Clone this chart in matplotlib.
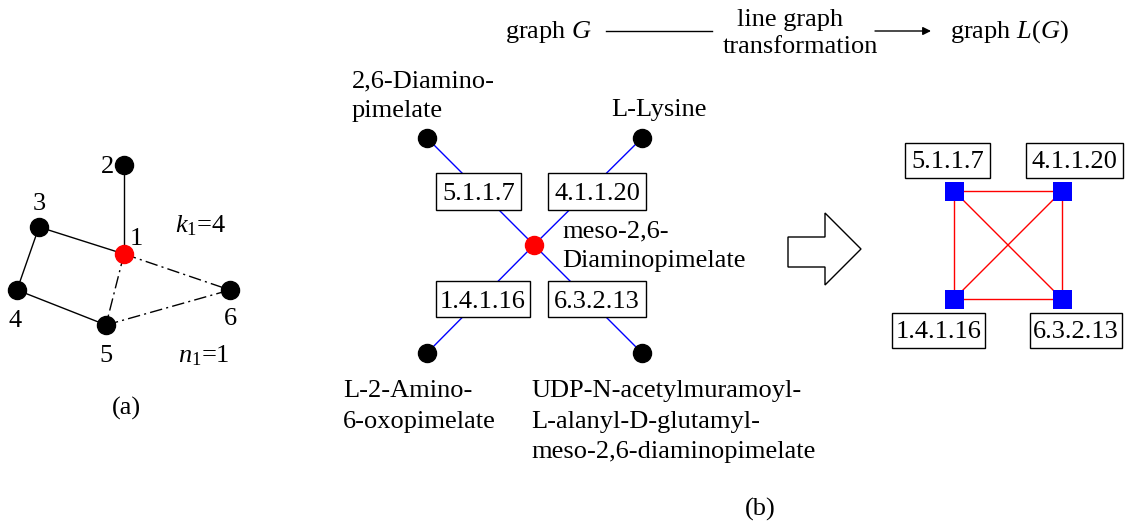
import matplotlib
matplotlib.use("Agg")
import matplotlib.pyplot as plt
from matplotlib.patches import Polygon, Rectangle

plt.rcParams['font.family'] = ['Liberation Serif', 'DejaVu Serif']
plt.rcParams['mathtext.fontset'] = 'custom'
plt.rcParams['mathtext.rm'] = 'Liberation Serif'
plt.rcParams['mathtext.it'] = 'Liberation Serif:italic'

# --- (a) grafo pequeño ---
nodos_a = {1: (124, 254), 2: (124, 165), 3: (39, 227), 4: (17, 290), 5: (106, 325), 6: (230, 290)}
aristas_solidas = [(1, 2), (1, 3), (3, 4), (4, 5)]
aristas_punteadas = [(1, 5), (1, 6), (5, 6)]
etiquetas_a = {1: (136, 245), 2: (108, 173), 3: (39, 210), 4: (15, 327), 5: (106, 362), 6: (230, 325)}

# --- (b) grafo de reacciones ---
centro_b = (534, 245)
nodos_b = [(427, 138), (642, 138), (427, 353), (642, 353)]
enzimas = ["5.1.1.7", "4.1.1.20", "1.4.1.16", "6.3.2.13"]
# cajas: (x0, x1, y0, y1)
cajas_b = [(436, 521, 173, 210), (548, 646, 173, 210), (436, 530, 281, 317), (548, 646, 281, 317)]
# etiquetas de metabolitos: (texto, x izquierda, línea base)
lineas_metab = [
    ("2,6-Diamino-", 352, 87), ("pimelate", 352, 117),
    ("L-Lysine", 611, 116),
    ("meso-2,6-", 562, 237), ("Diaminopimelate", 562, 267),
    ("L-2-Amino-", 343, 397), ("6-oxopimelate", 343, 428),
    ("UDP-N-acetylmuramoyl-", 531, 397), ("L-alanyl-D-glutamyl-", 531, 428),
    ("meso-2,6-diaminopimelate", 531, 458),
]

# --- grafo lineal L(G) ---
cuadros = [(954, 191), (1062, 191), (954, 299), (1062, 299)]
cajas_lg = [(905, 990, 143, 178), (1026, 1123, 143, 178), (892, 985, 313, 348), (1030, 1122, 313, 348)]

fig = plt.figure(figsize=(11.31, 5.23), dpi=100)
ax = fig.add_axes([0, 0, 1, 1])
ax.set_xlim(0, 1131)
ax.set_ylim(523, 0)
ax.axis('off')

fs = 19


def caja(x0, x1, y0, y1, txt):
    ax.add_patch(Rectangle((x0, y0), x1 - x0, y1 - y0, fc='white', ec='black', lw=1, zorder=4))
    ax.text((x0 + x1) / 2, y1 - 9.5, txt, fontsize=fs, ha='center', va='baseline', zorder=5)


# (a)
for a, b in aristas_solidas:
    ax.plot([nodos_a[a][0], nodos_a[b][0]], [nodos_a[a][1], nodos_a[b][1]], color='black', lw=1, zorder=1)
for a, b in aristas_punteadas:
    ax.plot([nodos_a[a][0], nodos_a[b][0]], [nodos_a[a][1], nodos_a[b][1]], color='black', lw=1,
            dashes=(9, 3, 1.5, 3), zorder=1)
for n, (x, y) in nodos_a.items():
    ax.plot(x, y, 'o', ms=13, color='red' if n == 1 else 'black', zorder=3)
for n, (x, y) in etiquetas_a.items():
    ax.text(x, y, str(n), fontsize=fs, ha='center', va='baseline')
ax.text(175, 232, r'$k_{\mathregular{1}}$=4', fontsize=fs, ha='left', va='baseline')
ax.text(178, 362, r'$n_{\mathregular{1}}$=1', fontsize=fs, ha='left', va='baseline')
ax.text(126, 415, '(a)', fontsize=fs, ha='center', va='baseline')

# (b)
for (x, y) in nodos_b:
    ax.plot([x, centro_b[0]], [y, centro_b[1]], color='blue', lw=1, zorder=1)
    ax.plot(x, y, 'o', ms=13, color='black', zorder=3)
ax.plot(*centro_b, 'o', ms=13, color='red', zorder=3)
for txt, (x0, x1, y0, y1) in zip(enzimas, cajas_b):
    caja(x0, x1, y0, y1, txt)
for txt, x, y in lineas_metab:
    ax.text(x, y, txt, fontsize=fs, ha='left', va='baseline')
ax.text(760, 516, '(b)', fontsize=fs, ha='center', va='baseline')

# encabezado
ax.text(505, 38, r'graph $G$', fontsize=fs, ha='left', va='baseline')
ax.plot([606, 712], [31, 31], color='black', lw=1)
ax.text(790, 26, 'line graph', fontsize=fs, ha='center', va='baseline')
ax.text(800, 53, 'transformation', fontsize=fs, ha='center', va='baseline')
ax.annotate('', xy=(931, 31), xytext=(875, 31),
            arrowprops=dict(arrowstyle='-|>', color='black', lw=1, mutation_scale=12, shrinkA=0, shrinkB=0))
ax.text(950, 38, r'graph $L$($G$)', fontsize=fs, ha='left', va='baseline')

# flecha hueca
flecha = [(788, 237), (825, 237), (825, 213), (861, 249), (825, 285), (825, 267), (788, 267)]
ax.add_patch(Polygon(flecha, closed=True, fc='white', ec='black', lw=1))

# L(G): grafo completo K4
for i in range(len(cuadros)):
    for j in range(i + 1, len(cuadros)):
        ax.plot([cuadros[i][0], cuadros[j][0]], [cuadros[i][1], cuadros[j][1]], color='red', lw=1, zorder=1)
for (x, y) in cuadros:
    ax.add_patch(Rectangle((x - 9.5, y - 9.5), 19, 19, fc='blue', ec='none', zorder=3))
for txt, (x0, x1, y0, y1) in zip(enzimas, cajas_lg):
    caja(x0, x1, y0, y1, txt)

fig.savefig('out.png', dpi=100)
